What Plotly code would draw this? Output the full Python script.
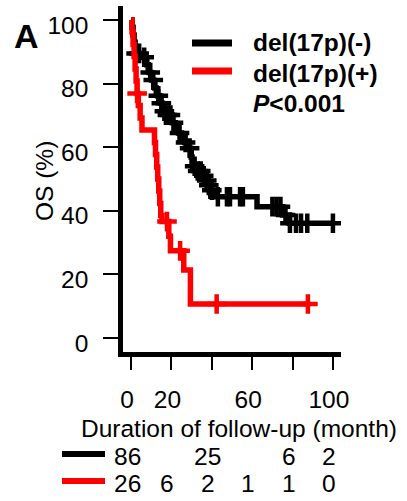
import numpy as np
import plotly.graph_objects as go

# ---- data ----
# del(17p)(-) : Kaplan-Meier steps (time in months, survival %)
black_t = [0, 0.5, 1.0, 1.5, 2.0, 2.3, 6.0, 7.0, 7.8, 8.5, 9.0, 9.8, 10.5, 11.2, 11.8,
           12.5, 13.2, 14.0, 14.8, 15.5, 16.3, 17.0, 20.5, 22.0, 23.5,
           25.0, 26.5, 28.0, 29.5, 29.8, 30.2, 30.6, 33.0, 35.0, 36.5, 38.0, 39.5,
           41.0, 62.4, 75.0, 78.5]
black_s = [100, 97.7, 95.3, 93.0, 90.7, 89.5, 88.3, 87.1, 85.9, 84.7, 83.5, 82.3, 81.1,
           79.9, 78.6, 77.4, 76.2, 75.0, 73.8, 72.6, 71.3, 70.1, 67.7,
           66.0, 64.5, 63.0, 61.5, 59.7, 58.3, 56.9, 55.5, 54.0, 52.5, 51.0, 49.5,
           48.0, 46.5, 44.4, 41.3, 38.7, 36.1]
black_end = 100.0
black_cens = [2.5, 4.0, 6.5, 9.5, 11.0, 13.5, 15.0, 16.5, 18.0, 19.5, 21.0, 24.0, 27.0,
              29.0, 31.5, 33.0, 34.5, 36.0, 37.5, 38.5, 40.0, 43.0, 47.5, 49.0, 54.0,
              55.4, 70.0, 72.0, 74.0, 76.5, 78.7, 81.7, 84.2, 87.3, 100.0]

# del(17p)(+)
red_t = [0, 0.5, 1.0, 1.5, 2.0, 2.5, 3.0, 3.6, 4.5, 5.4, 11.6, 12.1, 12.7, 13.2, 13.7,
         14.2, 14.7, 15.3, 18.7, 19.5, 26.1, 29.4]
red_s = [100, 96.2, 92.3, 88.5, 84.6, 80.8, 76.9, 73.1, 69.2, 65.4, 61.5, 57.7, 53.8,
         50.0, 46.2, 42.3, 38.5, 36.6, 32.0, 27.4, 21.4, 10.7]
red_end = 87.6
red_cens = [3.0, 17.8, 24.3, 42.4, 87.6]

x_ticks = [0, 20, 40, 60, 80, 100]
x_ticklabels = ["0", "20", "", "60", "", "100"]
y_ticks = [0, 20, 40, 60, 80, 100]

risk_times = [0, 20, 40, 60, 80, 100]
black_risk = ["86", "", "25", "", "6", "2"]
red_risk = ["26", "6", "2", "1", "1", "0"]

legend_names = ["del(17p)(-)", "del(17p)(+)"]
p_text = "<i>P</i><0.001"

BLACK = "#000000"
RED = "#ff0000"
FONT = "Liberation Sans, Arial, sans-serif"
FS = 24.5


def level_at(ts, ss, t):
    i = np.searchsorted(np.array(ts), t, side="right") - 1
    return ss[i]


fig = go.Figure()
for ts, ss, te, cens, col in [(black_t, black_s, black_end, black_cens, BLACK),
                              (red_t, red_s, red_end, red_cens, RED)]:
    fig.add_trace(go.Scatter(x=ts + [te], y=ss + [ss[-1]], mode="lines",
                             line=dict(color=col, width=5.5, shape="hv"),
                             showlegend=False, hoverinfo="skip"))
    fig.add_trace(go.Scatter(x=cens, y=[level_at(ts, ss, c) for c in cens], mode="markers",
                             marker=dict(symbol="cross-thin", size=14,
                                         line=dict(color=col, width=4.5)),
                             showlegend=False, hoverinfo="skip"))

# plot area: x 123..341 px, y 6..352 px
L, T, W, H = 123, 6, 218, 346


def px(xp):
    return (xp - L) / W


def py(yp):
    return (T + H - yp) / H


fig.update_layout(
    width=407, height=501,
    margin=dict(l=L, r=407 - L - W, t=T, b=501 - T - H, pad=0),
    paper_bgcolor="white", plot_bgcolor="white",
    font=dict(family=FONT, size=FS, color="black"),
    xaxis=dict(range=[-4, 104], showline=True, linewidth=4.5, linecolor="black",
               ticks="outside", ticklen=13, tickwidth=2, tickcolor="black",
               tickvals=x_ticks, ticktext=x_ticklabels, showgrid=False, zeroline=False,
               tickfont=dict(size=FS), ticklabelshift=-4, ticklabelstandoff=9),
    yaxis=dict(range=[-4.4, 104.4], showline=True, linewidth=4.5, linecolor="black",
               ticks="outside", ticklen=15, tickwidth=2, tickcolor="black",
               tickvals=y_ticks, showgrid=False, zeroline=False,
               tickfont=dict(size=FS), ticklabelstandoff=10, ticklabelshift=5),
)

# top-right legend
for name, col, yp in [(legend_names[0], BLACK, 43), (legend_names[1], RED, 71)]:
    fig.add_shape(type="line", xref="paper", yref="paper", x0=px(192), x1=px(232),
                  y0=py(yp), y1=py(yp), line=dict(color=col, width=7))
for txt, yp in [(f"<b>{legend_names[0]}</b>", 43), (f"<b>{legend_names[1]}</b>", 73),
                (f"<b>{p_text}</b>", 103)]:
    fig.add_annotation(text=txt, xref="paper", yref="paper", x=px(251), y=py(yp),
                       xanchor="left", yanchor="middle", showarrow=False,
                       font=dict(size=FS))

# panel label, axis titles
fig.add_annotation(text="<b>A</b>", xref="paper", yref="paper", x=px(26), y=py(36),
                   xanchor="center", yanchor="middle", showarrow=False, font=dict(size=34))
fig.add_annotation(text="OS (%)", xref="paper", yref="paper", x=px(44), y=py(181),
                   xanchor="center", yanchor="middle", showarrow=False, textangle=-90,
                   font=dict(size=FS))
fig.add_annotation(text="Duration of follow-up (month)", xref="paper", yref="paper",
                   x=px(239), y=py(428), xanchor="center", yanchor="middle",
                   showarrow=False, font=dict(size=FS))

# numbers at risk
for col, yp, vals in [(BLACK, 456, black_risk), (RED, 483, red_risk)]:
    fig.add_shape(type="line", xref="paper", yref="paper", x0=px(62), x1=px(105),
                  y0=py(yp - 2), y1=py(yp - 2), line=dict(color=col, width=6))
    for t, v in zip(risk_times, vals):
        if v:
            fig.add_annotation(text=v, xref="x", yref="paper", x=t, y=py(yp), xshift=-4,
                               xanchor="center", yanchor="middle", showarrow=False,
                               font=dict(size=FS))

fig.write_html("out.html")
